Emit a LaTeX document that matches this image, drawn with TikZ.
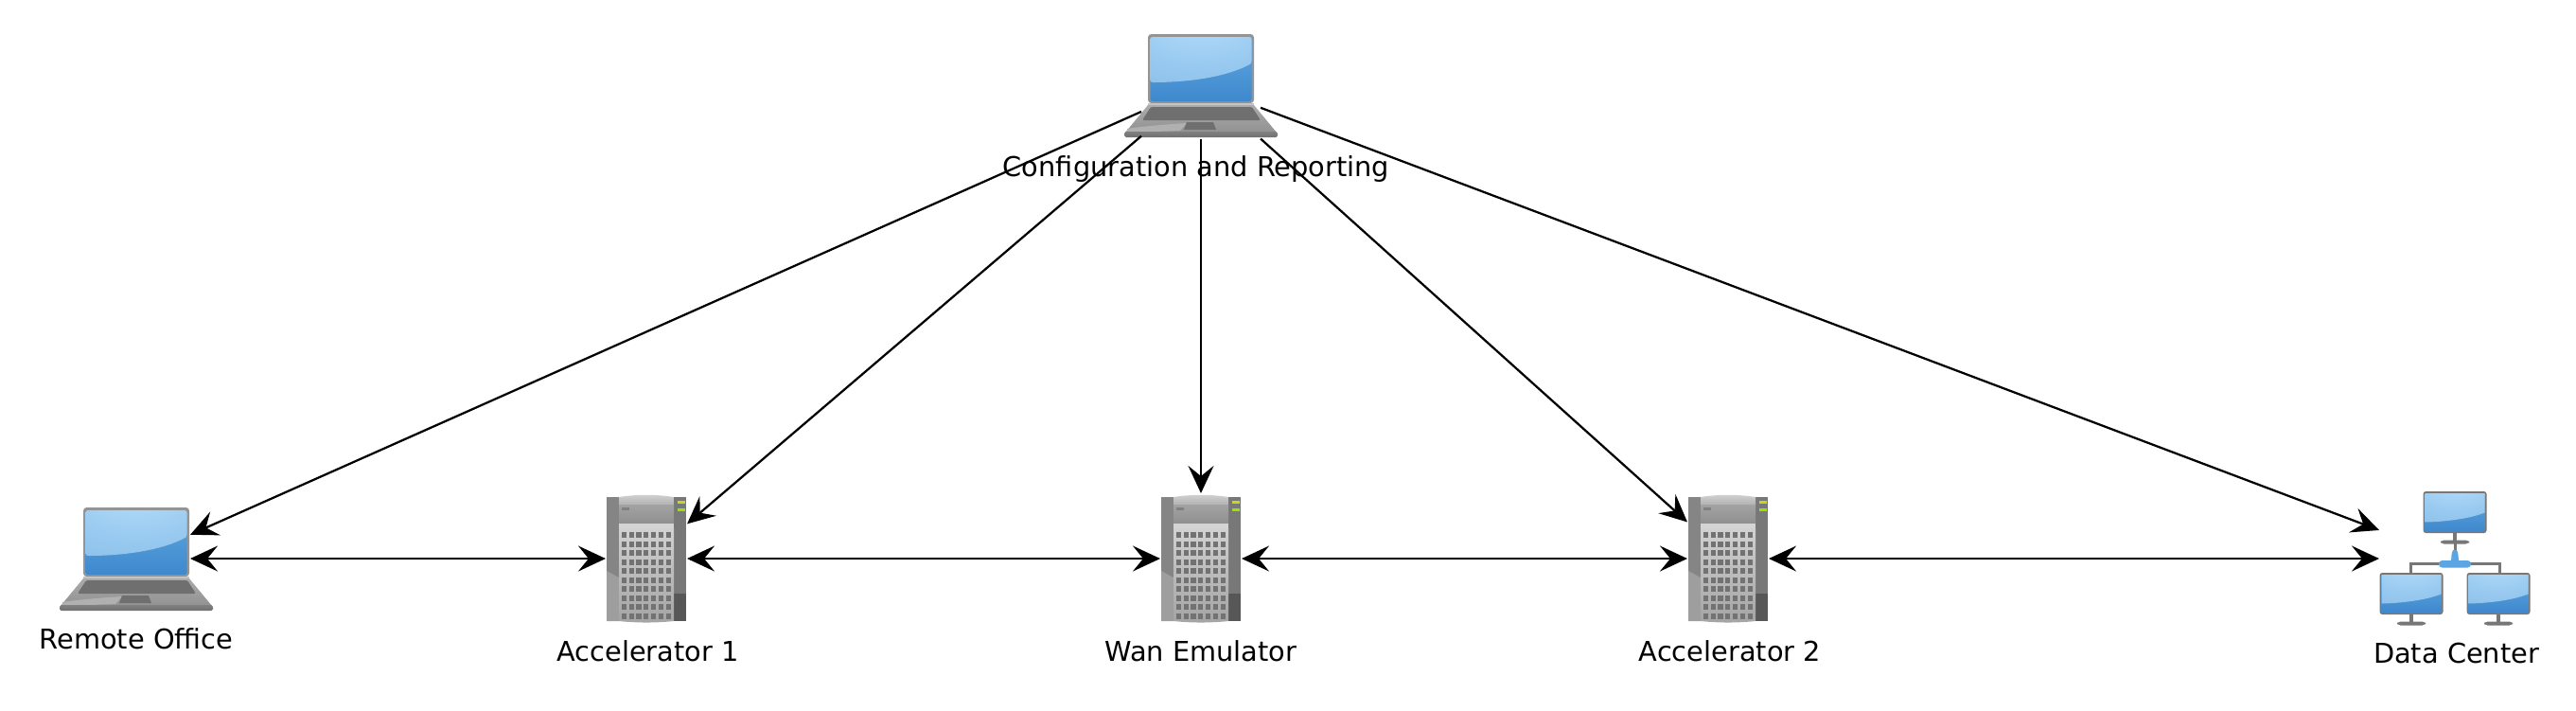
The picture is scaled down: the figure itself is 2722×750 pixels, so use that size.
\documentclass[tikz,border=0pt]{standalone}
\usepackage{fontspec}
\setmainfont{DejaVu Sans}
\usetikzlibrary{arrows.meta}

\definecolor{bezel}{HTML}{949494}
\definecolor{hinge}{HTML}{C4C4C4}
\definecolor{deck}{HTML}{ABABAB}
\definecolor{keys}{HTML}{6F6F6F}
\definecolor{scrtop}{HTML}{62A8E2}
\definecolor{scrlow}{HTML}{3E88CC}
\definecolor{srvcell}{HTML}{727272}
\definecolor{netline}{HTML}{777777}
\definecolor{netblue}{HTML}{5AA5E2}

\pgfdeclareradialshading{glow}{\pgfpoint{0bp}{45bp}}{
rgb(0bp)=(.70,.87,.99);
rgb(35bp)=(.60,.79,.94);
rgb(80bp)=(.50,.72,.90);
rgb(100bp)=(.47,.70,.89)}

\tikzset{
arr/.style={line width=.64pt, {Stealth[length=2.9mm,width=2.7mm,inset=1.1mm]}-{Stealth[length=2.9mm,width=2.7mm,inset=1.1mm]}},
oneway/.style={line width=.64pt, -{Stealth[length=2.9mm,width=2.7mm,inset=1.1mm]}},
lbl/.style={font=\fontsize{8.2}{10}\selectfont, anchor=base, inner sep=0pt},
laptopbox/.style={inner sep=0pt, outer sep=0pt, minimum width=1.14cm, minimum height=1.12cm},
serverbox/.style={inner sep=0pt, outer sep=0pt, minimum width=.86cm, minimum height=1.38cm},
netbox/.style={inner sep=0pt, outer sep=0pt, minimum width=1.6cm, minimum height=1.42cm},
laptop/.pic={
\fill[bezel, rounded corners=1pt] (-56,-54) rectangle (56,19);
\fill[hinge] (-56,19) rectangle (56,23);
\shade[top color=scrtop, bottom color=scrlow, rounded corners=.7pt] (-53.5,-51) rectangle (53.5,17);
\shade[shading=glow, rounded corners=.7pt] (-53.5,-3) .. controls (-15,-3) and (25,-8) .. (53.5,-23) -- (53.5,-51) -- (-53.5,-51) -- cycle;
\shade[top color=deck, bottom color=deck!85!black] (-56,21) -- (56,21) -- (80,50) -- (-80,50) -- cycle;
\fill[deck!94!white] (-78,46) .. controls (-60,43) and (-30,41) .. (-15,40) -- (-22,48) -- (-78,50) -- cycle;
\shade[top color=deck!75!black, bottom color=keys, rounded corners=.5pt] (-81,49) rectangle (81,55);
\fill[keys, rounded corners=.4pt] (-53,23) -- (54,23) -- (63,37) -- (-62,37) -- cycle;
\fill[keys] (-15,39) -- (13,39) -- (16,47) -- (-18,47) -- cycle;
},
server/.pic={
\fill[black!48] (-42,-65) rectangle (-29,66);
\fill[black!38] (-42,13) -- (-29,20) -- (-29,66) -- (-42,66) -- cycle;
\fill[black!53] (29,-65) rectangle (42,66);
\fill[black!66] (29,37) rectangle (42,66);
\shade[top color=black!18, bottom color=black!30] (-29,-65) .. controls (-10,-68) and (10,-68) .. (29,-65) -- (29,-57) -- (-29,-57) -- cycle;
\shade[top color=black!36, bottom color=black!44] (-29,-57) rectangle (29,-37);
\fill[black!17] (-29,-37) rectangle (29,-32);
\shade[top color=black!18, bottom color=black!36] (-29,-32) -- (29,-32) -- (29,66) .. controls (10,68) and (-10,68) .. (-29,66) -- cycle;
\foreach \i in {0,...,6} \foreach \j in {0,...,9}
\fill[srvcell] ({-26.3+7.8*\i},{-28+9.5*\j}) rectangle ++(5.2,6);
\fill[black!50] (-26,-54) rectangle (-18,-51);
\fill[yellow!85!green!90!black] (33,-61) rectangle (41,-58.5);
\fill[green!35!yellow!90!black] (33,-53) rectangle (41,-50);
},
monitor/.pic={
\fill[netline] (-2.2,20) rectangle (2.2,30);
\fill[netline, rounded corners=1pt] (-15,29.5) rectangle (15,33.5);
\fill[netline, rounded corners=.8pt] (-33.5,-22) rectangle (33.5,22);
\shade[top color=scrtop, bottom color=scrlow] (-31.5,-20) rectangle (31.5,20);
\shade[shading=glow] (-31.5,10.5) .. controls (-10,10) and (15,7) .. (31.5,.5) -- (31.5,-20) -- (-31.5,-20) -- cycle;
},
netgroup/.pic={
\draw[netline, line width=.85pt] (0,-20) -- (0,-6);
\draw[netline, line width=.85pt] (-47,16) -- (-47,5) -- (47,5) -- (47,16);
\pic at (0,-49) {monitor};
\pic at (-46,37) {monitor};
\pic at (46,37) {monitor};
\fill[netblue, rounded corners=1pt] (-17,2) rectangle (17,9.5);
\fill[netblue] (-4,3) .. controls (-3.5,-2) and (-4,-5) .. (-2,-9) -- (2,-9) .. controls (4,-5) and (3.5,-2) .. (4,3) -- cycle;
}
}

\begin{document}
\begin{tikzpicture}[x=.01cm, y=-.01cm]
\useasboundingbox (0,0) rectangle (2722,750);
\node[laptopbox, minimum width=1.26cm, minimum height=1.14cm] (config) at (1269,90) {};
\node[laptopbox] (remote) at (144,590) {};
\node[serverbox] (accone) at (683,590) {};
\node[serverbox] (wan) at (1269,590) {};
\node[serverbox] (acctwo) at (1826,590) {};
\node[netbox] (center) at (2594,590) {};
\pic at (config) {laptop};
\pic at (remote) {laptop};
\pic at (accone) {server};
\pic at (wan) {server};
\pic at (acctwo) {server};
\pic at (center) {netgroup};
\draw[arr] (remote) -- (accone);
\draw[arr] (accone) -- (wan);
\draw[arr] (wan) -- (acctwo);
\draw[arr] (acctwo) -- (center);
\draw[oneway] (config) -- (remote);
\draw[oneway] (config) -- (accone);
\draw[oneway] (config) -- (wan);
\draw[oneway] (config) -- (acctwo);
\draw[oneway] (config) -- (center);
\node[lbl] (configlbl) at (1264,186) {Configuration and Reporting};
\node[lbl] (remotelbl) at (144,685.5) {Remote Office};
\node[lbl] (acconelbl) at (684.5,698) {Accelerator 1};
\node[lbl] (wanlbl) at (1269,698) {Wan Emulator};
\node[lbl] (acctwolbl) at (1828,698) {Accelerator 2};
\node[lbl] (centerlbl) at (2595.5,700) {Data Center};
\end{tikzpicture}
\end{document}
